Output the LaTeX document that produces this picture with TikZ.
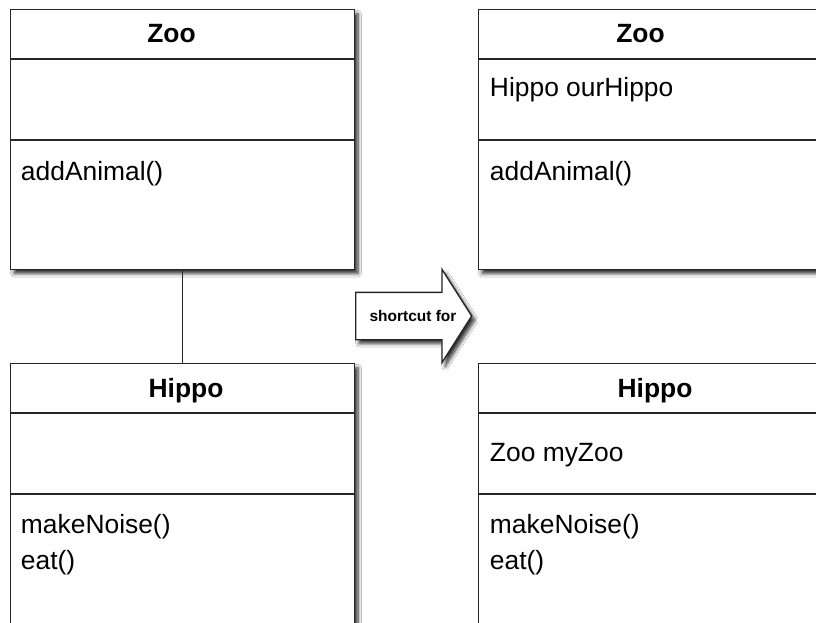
\documentclass[tikz,border=0pt]{standalone}
\usepackage{fontspec}
\setmainfont{Liberation Sans}
\usetikzlibrary{shapes.arrows,shadows.blur}

\begin{document}
\begin{tikzpicture}[x=0.75pt,y=-0.75pt,
    classbox/.style={draw=black!85, line width=1pt, fill=white,
        anchor=north west, inner sep=0pt, minimum width=258pt,
        blur shadow={shadow xshift=2.5pt, shadow yshift=-3pt,
            shadow blur radius=2.5pt, shadow blur steps=8,
            shadow opacity=80}},
    sepline/.style={draw=black!85, line width=1pt},
    title/.style={anchor=base, inner sep=0pt,
        font=\bfseries\fontsize{19.8}{23}\selectfont},
    member/.style={anchor=base west, inner sep=0pt,
        font=\fontsize{19.8}{23}\selectfont},
    arrowbox/.style={single arrow, draw=black!85, line width=1pt, fill=white,
        anchor=tail, inner sep=0pt, inner ysep=17.25pt,
        minimum height=87pt, single arrow head extend=17.25pt,
        single arrow tip angle=115,
        blur shadow={shadow xshift=2.5pt, shadow yshift=-3pt,
            shadow blur radius=2.5pt, shadow blur steps=8,
            shadow opacity=80}},
    cuttext/.style={inner sep=0pt, font=\bfseries\fontsize{11.6}{14}\selectfont}]
    \path[use as bounding box] (0,0) rectangle (816,623);
    \clip (0,0) rectangle (816,623);
    \fill[white] (0,0) rectangle (816,623);

    % left side: association
    \node[classbox, minimum height=195pt] (zooL) at (10,9) {};
    \node[classbox, minimum height=225pt] (hippoL) at (10,363) {};
    \draw[sepline] (zooL.south) -- (hippoL.north);
    \draw[sepline] ([yshift=-37.5pt]zooL.north west) -- ([yshift=-37.5pt]zooL.north east);
    \draw[sepline] ([yshift=-98.25pt]zooL.north west) -- ([yshift=-98.25pt]zooL.north east);
    \draw[sepline] ([yshift=-37.5pt]hippoL.north west) -- ([yshift=-37.5pt]hippoL.north east);
    \draw[sepline] ([yshift=-98.25pt]hippoL.north west) -- ([yshift=-98.25pt]hippoL.north east);
    \node[title] (zooLname) at (171.5,43) {Zoo};
    \node[member] (zooLop) at (20.7,181) {addAnimal()};
    \node[title] (hippoLname) at (186,397) {Hippo};
    \node[member] (hippoLop1) at (20.7,533) {makeNoise()};
    \node[member] (hippoLop2) at (20.7,569) {eat()};

    % shortcut arrow
    \node[arrowbox] (shortcut) at (355,316) {};
    \node[cuttext] (shortcutlabel) at (413,316) {shortcut for};

    % right side: attributes
    \node[classbox, minimum height=195pt] (zooR) at (478,9) {};
    \node[classbox, minimum height=225pt] (hippoR) at (478,363) {};
    \draw[sepline] ([yshift=-37.5pt]zooR.north west) -- ([yshift=-37.5pt]zooR.north east);
    \draw[sepline] ([yshift=-98.25pt]zooR.north west) -- ([yshift=-98.25pt]zooR.north east);
    \draw[sepline] ([yshift=-37.5pt]hippoR.north west) -- ([yshift=-37.5pt]hippoR.north east);
    \draw[sepline] ([yshift=-98.25pt]hippoR.north west) -- ([yshift=-98.25pt]hippoR.north east);
    \node[title] (zooRname) at (640.5,43) {Zoo};
    \node[member] (zooRattr) at (489.7,97) {Hippo ourHippo};
    \node[member] (zooRop) at (489.7,181) {addAnimal()};
    \node[title] (hippoRname) at (655,397) {Hippo};
    \node[member] (hippoRattr) at (489.7,461) {Zoo myZoo};
    \node[member] (hippoRop1) at (489.7,533) {makeNoise()};
    \node[member] (hippoRop2) at (489.7,569) {eat()};
\end{tikzpicture}
\end{document}
